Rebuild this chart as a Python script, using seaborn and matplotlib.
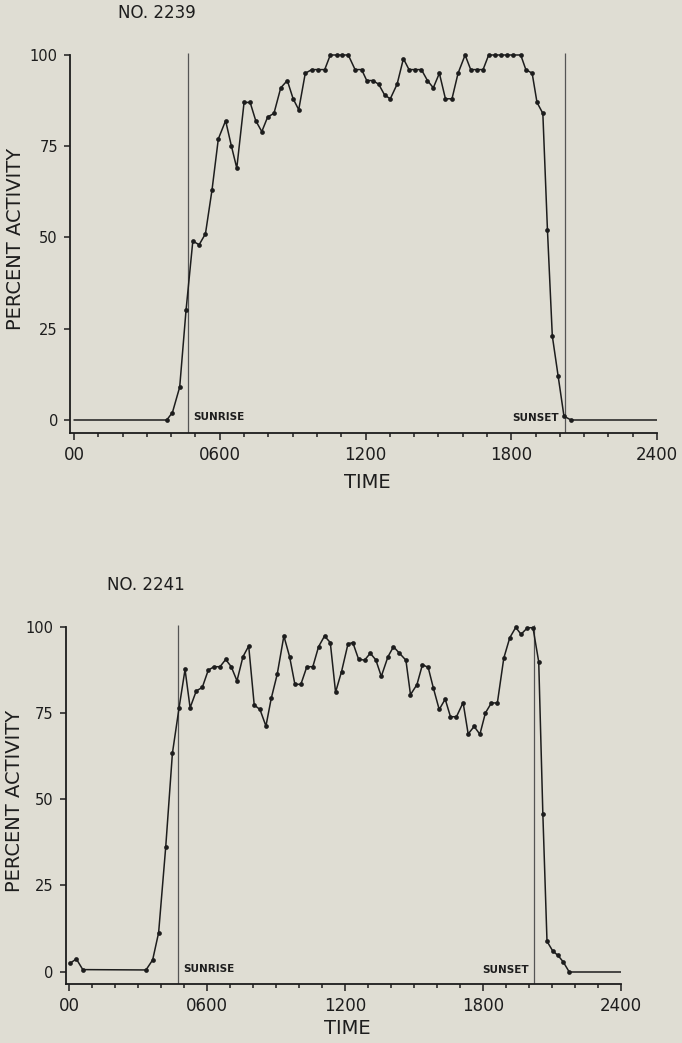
import numpy as np
import pandas as pd
import matplotlib
matplotlib.use("Agg")
import matplotlib.pyplot as plt
import seaborn as sns

# ---------------- data (hours, percent activity) ----------------
# Animal NO. 2239
top_title = "NO. 2239"
top_times = [3.82, 4.05, 4.35, 4.61, 4.89, 5.15, 5.41, 5.68, 5.94, 6.24, 6.48, 6.70,
             7.00, 7.25, 7.48, 7.73, 7.97, 8.23, 8.51, 8.78, 9.02, 9.25, 9.52, 9.79,
             10.06, 10.32, 10.55, 10.81, 11.05, 11.29,
             11.57, 11.84, 12.05, 12.30, 12.54, 12.79, 13.02, 13.30, 13.56, 13.79,
             14.04, 14.30, 14.55, 14.79, 15.04, 15.29, 15.56, 15.81, 16.10, 16.33,
             16.58, 16.84, 17.07, 17.32, 17.58, 17.83, 18.09, 18.39, 18.60, 18.86,
             19.06, 19.30, 19.49, 19.69, 19.93, 20.17, 20.45]
top_values = [0, 2, 9, 30, 49, 48, 51, 63, 77, 82, 75, 69, 87, 87, 82, 79, 83, 84,
              91, 93, 88, 85, 95, 96, 96, 96, 100, 100, 100, 100,
              96, 96, 93, 93, 92, 89, 88, 92, 99, 96, 96, 96, 93, 91, 95, 88, 88,
              95, 100, 96, 96, 96, 100, 100, 100, 100, 100, 100, 96, 95, 87, 84,
              52, 23, 12, 1, 0]
top_sunrise = 4.71
top_sunset = 20.2

# Animal NO. 2241
bot_title = "NO. 2241"
bot_times = [0.04, 0.30, 0.58,
             3.33, 3.62, 3.88, 4.19, 4.48, 4.77, 5.03, 5.25, 5.52, 5.78, 6.04, 6.29,
             6.55, 6.80, 7.04, 7.29, 7.55, 7.80, 8.04, 8.29, 8.55, 8.78, 9.04, 9.33,
             9.58, 9.81, 10.07, 10.33, 10.59, 10.84, 11.10, 11.35, 11.58, 11.84, 12.12,
             12.33, 12.58, 12.84, 13.09, 13.33, 13.57, 13.86, 14.10, 14.36, 14.64,
             14.84, 15.12, 15.36, 15.61, 15.84, 16.09, 16.35, 16.58, 16.84, 17.13,
             17.35, 17.61, 17.86, 18.10, 18.36, 18.62, 18.90, 19.16, 19.42, 19.65,
             19.93, 20.17, 20.42, 20.60, 20.78, 21.03, 21.26, 21.49, 21.74]
bot_values = [2.5, 3.7, 0.6,
              0.5, 3.4, 11.3, 36.2, 63.3, 76.5, 87.6, 76.5, 81.4, 82.4, 87.4, 88.4,
              88.4, 90.5, 88.4, 84.3, 91.3, 94.4, 77.3, 76, 71.2, 79.2, 86.2, 97.3,
              91.3, 83.3, 83.3, 88.4, 88.4, 94.2, 97.3, 95.4, 81, 87, 95,
              95.4, 90.6, 90.3, 92.3, 90.4, 85.6, 91.3, 94.2, 92.3, 90.3, 80.3, 83.2,
              89, 88.2, 82.1, 76, 79, 73.9, 73.9, 78, 68.9, 71.1, 68.8, 75, 77.9, 77.9,
              90.9, 96.8, 99.8, 97.8, 99.7, 99.7, 89.8, 45.6, 8.8, 6, 4.7, 2.8, 0]
bot_sunrise = 4.74
bot_sunset = 20.2

x_major = [0, 6, 12, 18, 24]
x_major_labels = ["00", "0600", "1200", "1800", "2400"]
y_ticks = [0, 25, 50, 75, 100]
y_tick_labels = ["0", "25", "50", "75", "100"]
DAY_END = 24

# ---------------- style ----------------
BG = "#dfddd3"
INK = "#1d1d1d"
GUIDE = "#555555"
YLO, YHI = -3.6, 102
XLO = -0.15

sns.set_style("ticks")
plt.rcParams["font.family"] = ["DejaVu Sans"]
plt.rcParams["text.color"] = INK
plt.rcParams["axes.labelcolor"] = INK
plt.rcParams["xtick.color"] = INK
plt.rcParams["ytick.color"] = INK

fig = plt.figure(figsize=(6.82, 10.43), dpi=100, facecolor=BG)
W, H = 682, 1043


def axes_px(left, right, top, bottom):
    return fig.add_axes([left / W, 1 - bottom / H, (right - left) / W, (bottom - top) / H])


ax_top = axes_px(70.4, 657, 47.7, 433)
ax_bot = axes_px(66, 621, 619.8, 984.1)


def draw(ax, times, values, title, sunrise, sunset, title_xy, ylabel_xy, xlabel_xy):
    ax.set_facecolor(BG)
    df = pd.DataFrame({"time": times, "activity": values})
    # zero-activity baselines before the first and after the last reading
    segs = []
    if times[0] > 0.1:
        segs.append(pd.DataFrame({"time": [0, times[0]], "activity": [0, 0]}))
    segs.append(pd.DataFrame({"time": [times[-1], DAY_END], "activity": [0, 0]}))
    for seg in segs:
        sns.lineplot(data=seg, x="time", y="activity", ax=ax, color=INK, lw=1.1,
                     estimator=None, sort=False)
    sns.lineplot(data=df, x="time", y="activity", ax=ax, color=INK, lw=1.1,
                 marker="o", markersize=3.4, markeredgewidth=0, markerfacecolor=INK,
                 estimator=None, sort=False, clip_on=False)

    ax.vlines([sunrise, sunset], YLO, 100.5, colors=GUIDE, lw=0.9, zorder=1)
    ax.text(sunrise + 0.2, 0.8, "SUNRISE", fontsize=7.5, fontweight="bold",
            ha="left", va="center", color=INK)
    ax.text(sunset - 0.22, 0.5, "SUNSET", fontsize=7.5, fontweight="bold",
            ha="right", va="center", color=INK)

    ax.set_xlim(XLO, DAY_END)
    ax.set_ylim(YLO, YHI)
    ax.set_xticks(x_major)
    ax.set_xticklabels(x_major_labels, fontsize=12)
    ax.set_xticks(np.arange(0, DAY_END + 1), minor=True)
    ax.set_yticks(y_ticks)
    ax.set_yticklabels(y_tick_labels, fontsize=10.5)
    ax.tick_params(axis="x", which="major", length=5, width=1.1, direction="out", pad=4)
    ax.tick_params(axis="x", which="minor", length=3.2, width=1.1, direction="out")
    ax.tick_params(axis="y", which="major", length=4.5, width=1.1, direction="out", pad=4.5)

    for side in ("top", "right"):
        ax.spines[side].set_visible(False)
    for side in ("left", "bottom"):
        ax.spines[side].set_linewidth(1.3)
        ax.spines[side].set_color(INK)
    ax.spines["left"].set_bounds(YLO, 100)

    ax.set_xlabel("TIME", fontsize=14, va="top")
    ax.xaxis.set_label_coords(*xlabel_xy)
    ax.set_ylabel("PERCENT ACTIVITY", fontsize=14, va="center")
    ax.yaxis.set_label_coords(*ylabel_xy)
    ax.set_title(title, fontsize=12, x=title_xy[0], y=title_xy[1], pad=0,
                 ha="center", va="baseline")
    ax.grid(False)


draw(ax_top, top_times, top_values, top_title, top_sunrise, top_sunset,
     title_xy=(0.1477, 1.0763), ylabel_xy=(-0.0936, 0.5035), xlabel_xy=(0.507, -0.1038))
draw(ax_bot, bot_times, bot_values, bot_title, bot_sunrise, bot_sunset,
     title_xy=(0.144, 1.0818), ylabel_xy=(-0.0928, 0.5026), xlabel_xy=(0.506, -0.0958))

fig.savefig("out.png", dpi=100, facecolor=BG)
